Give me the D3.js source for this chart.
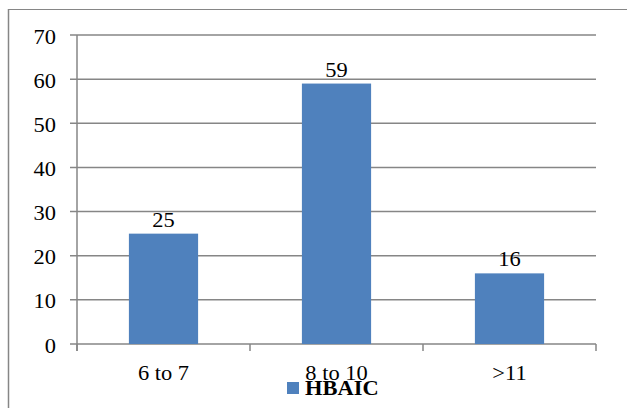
<!DOCTYPE html>
<html>
<head>
<meta charset="utf-8">
<script src="https://cdn.jsdelivr.net/npm/d3@7"></script>
<style>
  html, body { margin: 0; padding: 0; background: #fff; }
  svg { display: block; }
  text { font-family: "Liberation Serif"; fill: #000; }
</style>
</head>
<body>
<svg id="chart" width="627" height="408"></svg>
<script>
const categories = ["6 to 7", "8 to 10", ">11"];
const values = [25, 59, 16];
const yTicks = [0, 10, 20, 30, 40, 50, 60, 70];
const seriesName = "HBAIC";

(function () {
const W = 627, H = 408;
const svg = d3.select("#chart");
const pLeft = 77, pRight = 596, pTop = 35, pBottom = 344;
const gridColor = "#868686";
const barColor = "#4F81BD";
const fs = 21;
const sx = 1.07;

// outer border (top & left visible)
svg.append("line").attr("x1", 8).attr("x2", W).attr("y1", 9.5).attr("y2", 9.5)
  .attr("stroke", gridColor).attr("stroke-width", 1);
svg.append("line").attr("x1", 8.5).attr("x2", 8.5).attr("y1", 9).attr("y2", H)
  .attr("stroke", gridColor).attr("stroke-width", 1.5);

const xb = d3.scaleBand().domain(categories).range([pLeft, pRight]);
const y = d3.scaleLinear().domain([0, 70]).range([pBottom, pTop]);

// gridlines
svg.append("g").selectAll("line").data(yTicks).join("line")
  .attr("x1", pLeft - 7).attr("x2", pRight)
  .attr("y1", d => y(d)).attr("y2", d => y(d))
  .attr("stroke", gridColor).attr("stroke-width", 1.5);

// y axis line
svg.append("line").attr("x1", pLeft).attr("x2", pLeft).attr("y1", y(70)).attr("y2", pBottom + 7)
  .attr("stroke", gridColor).attr("stroke-width", 1.5);

// x axis ticks
const xTickPos = categories.map(c => xb(c)).concat([pRight]);
svg.append("g").selectAll("line").data(xTickPos).join("line")
  .attr("x1", d => d).attr("x2", d => d).attr("y1", pBottom).attr("y2", pBottom + 7)
  .attr("stroke", gridColor).attr("stroke-width", 1.5);

// y tick labels
svg.append("g").selectAll("text").data(yTicks).join("text")
  .attr("transform", d => `translate(56,${y(d) + 8.5}) scale(${sx},1)`)
  .attr("text-anchor", "end").attr("font-size", fs)
  .text(d => d);

// bars
const bw = xb.bandwidth() * 0.4;
svg.append("g").selectAll("rect").data(values).join("rect")
  .attr("x", (d, i) => xb(categories[i]) + xb.bandwidth() / 2 - bw / 2)
  .attr("width", bw)
  .attr("y", d => y(d))
  .attr("height", d => pBottom - y(d))
  .attr("fill", barColor);

// value labels
svg.append("g").selectAll("text").data(values).join("text")
  .attr("transform", (d, i) => `translate(${xb(categories[i]) + xb.bandwidth() / 2},${y(d) - 7}) scale(${sx},1)`)
  .attr("text-anchor", "middle").attr("font-size", fs)
  .text(d => d);

// category labels
svg.append("g").selectAll("text").data(categories).join("text")
  .attr("transform", c => `translate(${xb(c) + xb.bandwidth() / 2},380) scale(${sx},1)`)
  .attr("text-anchor", "middle").attr("font-size", fs)
  .text(c => c);

// legend
svg.append("rect").attr("x", 287).attr("y", 382).attr("width", 12).attr("height", 12).attr("fill", barColor);
svg.append("text")
  .attr("transform", `translate(305,395) scale(${sx},1)`)
  .attr("font-size", fs).attr("font-weight", "bold")
  .text(seriesName);
})();
</script>
</body>
</html>
